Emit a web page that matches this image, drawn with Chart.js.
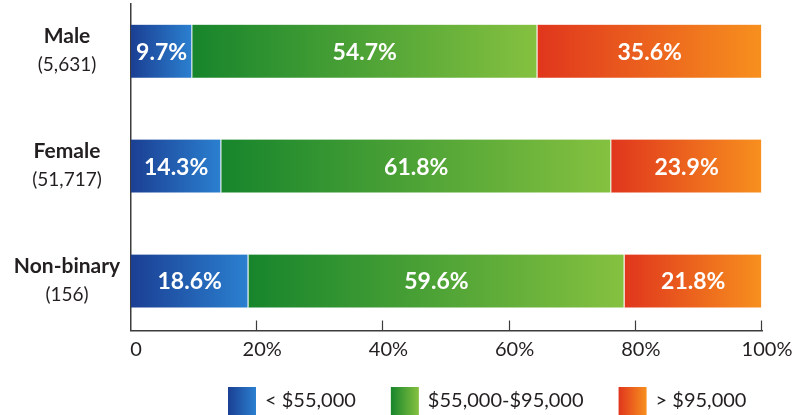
<!DOCTYPE html>
<html><head><meta charset="utf-8">
<script src="https://cdn.jsdelivr.net/npm/chart.js@4.4.1/dist/chart.umd.min.js"></script>
<style>html,body{margin:0;padding:0;background:#fff;overflow:hidden;width:810px;height:415px}</style>
</head><body>
<canvas id="c" width="810" height="415"></canvas>
<script>
const categories = ['Male', 'Female', 'Non-binary'];
const counts = ['(5,631)', '(51,717)', '(156)'];
const seriesNames = ['< $55,000', '$55,000-$95,000', '> $95,000'];
const below55k = [9.7, 14.3, 18.6];
const mid55to95k = [54.7, 61.8, 59.6];
const above95k = [35.6, 23.9, 21.8];
const xTicks = [0, 20, 40, 60, 80, 100];

const series = [below55k, mid55to95k, above95k];
const gradStops = [['#1b3f93', '#2b80d0'], ['#17852c', '#85c140'], ['#e0361d', '#f7901e']];
const TXT = '#231f20';

function gradFor(s) {
  return function (ctx) {
    const chart = ctx.chart;
    if (!chart.chartArea || ctx.dataIndex === undefined) return gradStops[s][1];
    const xs = chart.scales.x, i = ctx.dataIndex;
    let start = 0;
    for (let k = 0; k < s; k++) start += series[k][i];
    const end = start + series[s][i];
    const g = chart.ctx.createLinearGradient(xs.getPixelForValue(start), 0, xs.getPixelForValue(end), 0);
    g.addColorStop(0, gradStops[s][0]);
    g.addColorStop(1, gradStops[s][1]);
    return g;
  };
}

const datasets = series.map((vals, s) => ({
  label: seriesNames[s],
  data: vals.map((v, i) => ({ x: v, y: i })),
  backgroundColor: gradFor(s),
  borderColor: 'rgba(255,255,255,0.85)',
  borderWidth: { left: 0, right: 1.2, top: 0, bottom: 0 },
  borderSkipped: false,
  barThickness: 53
}));

const extras = {
  id: 'extras',
  afterDatasetsDraw(chart) {
    const ctx = chart.ctx;
    ctx.save();
    ctx.fillStyle = '#ffffff';
    ctx.font = 'bold 23px Lato';
    ctx.textAlign = 'center';
    ctx.textBaseline = 'middle';
    chart.data.datasets.forEach((ds, d) => {
      chart.getDatasetMeta(d).data.forEach((el, i) => {
        ctx.fillText(series[d][i].toFixed(1) + '%', (el.x + el.base) / 2, el.y + 1);
      });
    });
    ctx.restore();
  },
  afterDraw(chart) {
    const ctx = chart.ctx, xs = chart.scales.x, ys = chart.scales.y, area = chart.chartArea;
    ctx.save();
    // tick marks pointing up from the axis
    ctx.strokeStyle = '#3c3c3c';
    ctx.lineWidth = 1.2;
    xTicks.forEach(v => {
      if (v === 0) return;
      const x = Math.round(xs.getPixelForValue(v)) - 0.5;
      ctx.beginPath(); ctx.moveTo(x, area.bottom - 10); ctx.lineTo(x, area.bottom); ctx.stroke();
    });
    // category labels
    ctx.fillStyle = TXT;
    ctx.textAlign = 'center';
    ctx.textBaseline = 'middle';
    categories.forEach((c, i) => {
      const y = ys.getPixelForValue(i);
      ctx.font = 'bold 21px Lato';
      ctx.fillText(c, 67, y - 15);
      ctx.font = '19px Lato';
      ctx.fillText(counts[i], 67, y + 14);
    });
    // legend
    ctx.font = '20px Lato';
    ctx.textAlign = 'left';
    let x = 228;
    const top = 387;
    series.forEach((vals, s) => {
      const g = ctx.createLinearGradient(x, 0, x + 28, 0);
      g.addColorStop(0, gradStops[s][0]);
      g.addColorStop(1, gradStops[s][1]);
      ctx.fillStyle = g;
      ctx.fillRect(x, top, 28, 40);
      ctx.fillStyle = TXT;
      ctx.fillText(seriesNames[s], x + 37, top + 14);
      x += 37 + ctx.measureText(seriesNames[s]).width + 35;
    });
    ctx.restore();
  }
};

new Chart(document.getElementById('c'), {
  type: 'bar',
  data: { datasets },
  options: {
    indexAxis: 'y',
    responsive: false,
    animation: false,
    layout: { padding: { left: 131, right: 48, top: 4, bottom: 44.5 } },
    plugins: { legend: { display: false }, tooltip: { enabled: false } },
    scales: {
      x: {
        type: 'linear', stacked: true, min: 0, max: 100,
        afterBuildTicks: (axis) => { axis.ticks = xTicks.map(v => ({ value: v })); },
        afterFit: (axis) => { axis.height = 40; },
        ticks: {
          callback: (v) => v === 0 ? '0' : v + '%',
          font: { family: 'Lato', size: 20 }, color: TXT, padding: 7.5, maxRotation: 0, labelOffset: 5
        },
        grid: { display: false, drawTicks: false },
        border: { display: true, color: '#3c3c3c', width: 1.5 }
      },
      y: {
        type: 'linear', stacked: true, reverse: true, min: -0.41, max: 2.43, offset: false,
        ticks: { display: false },
        grid: { display: false, drawTicks: false, offset: false },
        border: { display: true, color: '#3c3c3c', width: 1.5 }
      }
    }
  },
  plugins: [extras]
});
</script>
</body></html>
